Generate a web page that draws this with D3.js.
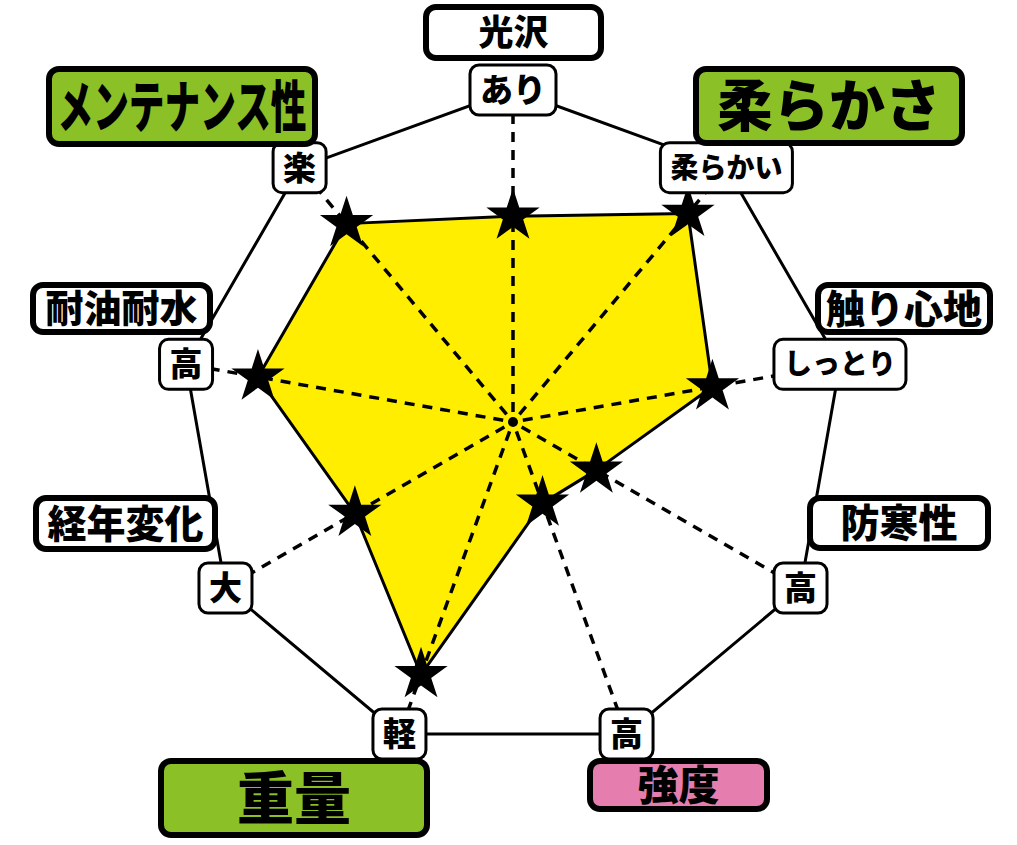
<!DOCTYPE html>
<html>
<head>
<meta charset="utf-8">
<script src="https://cdn.jsdelivr.net/npm/d3@7"></script>
<style>
  body { margin: 0; background: #fff; }
  text { font-family: "Noto Sans CJK JP", "Noto Sans", sans-serif; font-weight: 900; }
</style>
</head>
<body>
<div id="chart"></div>
<script>
// axis names, the label at the outer end of each axis, and the star values (0-100)
var axes = ["光沢", "柔らかさ", "触り心地", "防寒性", "強度", "重量", "経年変化", "耐油耐水", "メンテナンス性"];
var ends = ["あり", "柔らかい", "しっとり", "高", "高", "軽", "大", "高", "楽"];
var values = [62, 82, 61, 29, 26, 81, 55, 78, 78];

// title boxes (layout only)
var titleBox = [
    {x: 423, y: 4,   w: 181, h: 57, fill: "#ffffff", size: 35},
    {x: 693, y: 66,  w: 272, h: 80, fill: "#8cc027", size: 56},
    {x: 815, y: 282, w: 178, h: 53, fill: "#ffffff", size: 39},
    {x: 807, y: 495, w: 184, h: 56, fill: "#ffffff", size: 39},
    {x: 587, y: 758, w: 183, h: 54, fill: "#e57eae", size: 41},
    {x: 158, y: 758, w: 272, h: 80, fill: "#8cc027", size: 57},
    {x: 33,  y: 495, w: 185, h: 57, fill: "#ffffff", size: 39},
    {x: 30,  y: 282, w: 183, h: 53, fill: "#ffffff", size: 38},
    {x: 46,  y: 66,  w: 272, h: 81, fill: "#8cc027", size: 56, squeeze: 249}
];

var width = 1017, height = 845;
var cx = 513, cy = 422;

var svg = d3.select("#chart")
    .append("svg")
        .attr("width", width)
        .attr("height", height);

var g = svg.append("g")
    .attr("transform", "translate(" + cx + "," + cy + ")");

// radial scale and angle scale
var r = d3.scaleLinear().domain([0, 100]).range([0, 332]);
var angle = d3.scaleLinear().domain([0, axes.length]).range([0, 2 * Math.PI]);

function pt(i, v) {
    var a = angle(i);
    return [r(v) * Math.sin(a), -r(v) * Math.cos(a)];
}

// outer frame
var outer = axes.map(function(d, i) { return pt(i, 100); });
g.append("polygon")
    .attr("points", outer.map(function(p) { return p.join(","); }).join(" "))
    .attr("fill", "none")
    .attr("stroke", "#000")
    .attr("stroke-width", 3);

// yellow area
var inner = values.map(function(v, i) { return pt(i, v); });
g.append("polygon")
    .attr("points", inner.map(function(p) { return p.join(","); }).join(" "))
    .attr("fill", "#ffee00")
    .attr("stroke", "#000")
    .attr("stroke-width", 3)
    .attr("stroke-linejoin", "round");

// dashed spokes
g.selectAll(".spoke")
    .data(axes)
    .enter()
    .append("line")
        .attr("class", "spoke")
        .attr("x1", function(d, i) { return pt(i, 3)[0]; })
        .attr("y1", function(d, i) { return pt(i, 3)[1]; })
        .attr("x2", function(d, i) { return pt(i, 100)[0]; })
        .attr("y2", function(d, i) { return pt(i, 100)[1]; })
        .attr("stroke", "#000")
        .attr("stroke-width", 3.5)
        .attr("stroke-dasharray", "10,8");

g.append("circle").attr("r", 5).attr("fill", "#000");

// stars
var star = d3.symbol().type(d3.symbolStar).size(880);
g.selectAll(".star")
    .data(values)
    .enter()
    .append("path")
        .attr("class", "star")
        .attr("d", star)
        .attr("transform", function(d, i) { return "translate(" + pt(i, d).join(",") + ")"; })
        .attr("fill", "#000");

// end labels
var ends_g = g.selectAll(".end")
    .data(ends)
    .enter()
    .append("g")
        .attr("class", "end")
        .attr("transform", function(d, i) { return "translate(" + pt(i, 100).join(",") + ")"; });

ends_g.append("rect");
ends_g.append("text")
    .attr("text-anchor", "middle")
    .attr("dy", "0.36em")
    .attr("font-size", function(d) { return d.length > 2 ? 28 : 33; })
    .text(function(d) { return d; });

ends_g.each(function() {
    var t = d3.select(this).select("text");
    var w = t.node().getComputedTextLength() + 20;
    d3.select(this).select("rect")
        .attr("x", -w / 2).attr("y", -25)
        .attr("width", w).attr("height", 50)
        .attr("rx", 9)
        .attr("fill", "#fff")
        .attr("stroke", "#000")
        .attr("stroke-width", 3);
});

// title boxes
var titles = svg.selectAll(".title")
    .data(titleBox)
    .enter()
    .append("g")
        .attr("class", "title");

titles.append("rect")
    .attr("x", function(d) { return d.x + 3; })
    .attr("y", function(d) { return d.y + 3; })
    .attr("width", function(d) { return d.w - 6; })
    .attr("height", function(d) { return d.h - 6; })
    .attr("rx", 10)
    .attr("fill", function(d) { return d.fill; })
    .attr("stroke", "#000")
    .attr("stroke-width", 6);

titles.append("text")
    .attr("x", function(d) { return d.x + d.w / 2; })
    .attr("y", function(d) { return d.y + d.h / 2; })
    .attr("dy", "0.36em")
    .attr("text-anchor", "middle")
    .attr("font-size", function(d) { return d.size; })
    .each(function(d) {
        if (d.squeeze) {
            d3.select(this)
                .attr("textLength", d.squeeze)
                .attr("lengthAdjust", "spacingAndGlyphs");
        }
    })
    .text(function(d, i) { return axes[i]; });
</script>
</body>
</html>
